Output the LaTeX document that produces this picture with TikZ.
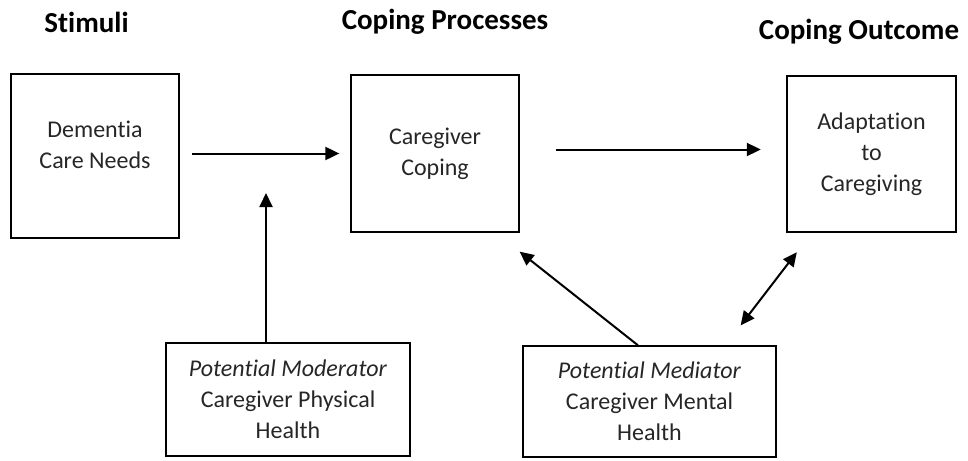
\documentclass[tikz,border=0pt]{standalone}
\usepackage{fontspec}
\setmainfont[Ligatures=NoCommon]{Carlito}
\usetikzlibrary{arrows.meta}

\begin{document}
\begin{tikzpicture}[x=0.5pt, y=-0.5pt,
    box/.style={draw, line width=0.65pt, align=center, text=black!85,
        font=\fontsize{12}{15.5}\selectfont, inner sep=0pt},
    titolo/.style={font=\fontsize{14.5}{17}\selectfont\bfseries},
    freccia/.style={line width=1pt, -{Triangle[length=7pt, width=6.5pt]}}]
    \useasboundingbox (0,0) rectangle (968,460);

    % Titoli delle tre colonne
    \node[titolo] (stimuli) at (86.5, 22) {Stimuli};
    \node[titolo] (processi) at (445, 22) {Coping Processes};
    \node[titolo] (esito) at (859, 32) {Coping Outcome};

    % Riquadri principali
    \node[box, minimum width=84pt, minimum height=82pt] (needs) at (95, 156) {Dementia\\Care Needs\\[-4.5pt]\mbox{}};
    \node[box, minimum width=84pt, minimum height=78.5pt] (coping) at (435, 153.5) {Caregiver\\Coping};
    \node[box, line width=1.2pt, minimum width=84.5pt, minimum height=78pt] (adapt) at (871.5, 154) {Adaptation\\to\\Caregiving};

    % Moderatore e mediatore
    \node[box, minimum width=122pt, minimum height=56.5pt] (moderator) at (288, 399.5) {\textit{Potential Moderator}\\Caregiver Physical\\Health};
    \node[box, minimum width=126.5pt, minimum height=55.5pt] (mediator) at (649.5, 401.5) {\textit{Potential Mediator}\\Caregiver Mental\\Health};

    % Frecce
    \coordinate (modtip) at (266, 193); % punta della freccia del moderatore
    \draw[freccia, shorten <=6pt, shorten >=5.5pt] (needs.east |- coping.west) -- (coping.west);
    \draw[freccia, shorten <=18pt, shorten >=12.5pt] ([yshift=2pt]coping.east) -- ([yshift=2pt]coping.east -| adapt.west);
    \draw[freccia] (moderator.north -| modtip) -- (modtip);
    \draw[freccia] ([xshift=-5.75pt]mediator.north) -- ([yshift=-9.5pt]coping.south east);
    \draw[freccia, {Triangle[length=7pt, width=6.5pt]}-{Triangle[length=7pt, width=6.5pt]}]
        ([xshift=-18pt, yshift=10pt]mediator.north east) -- ([xshift=5.5pt, yshift=-9.5pt]adapt.south west);
\end{tikzpicture}
\end{document}
